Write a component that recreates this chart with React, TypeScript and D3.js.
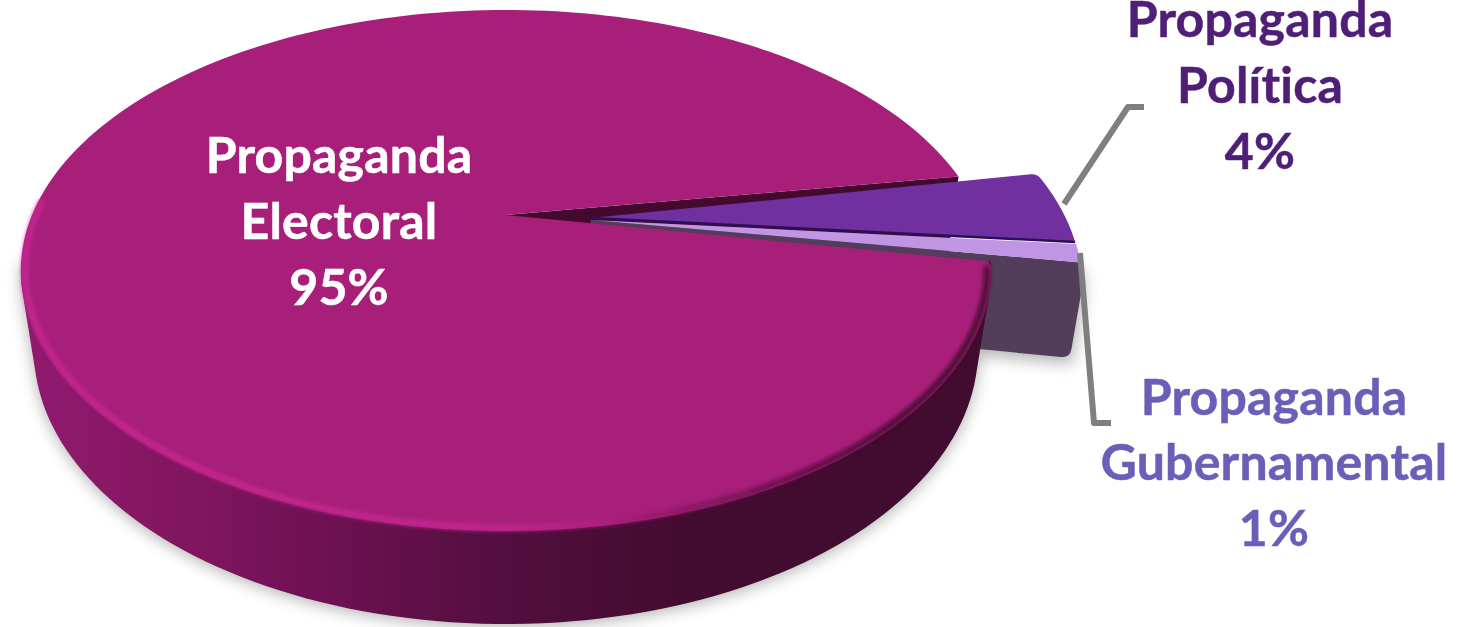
import React from "react";
import * as d3 from "d3";

const categories = ["Propaganda Electoral", "Propaganda Política", "Propaganda Gubernamental"];
const values = [95, 4, 1];
const labelLines = [["Propaganda", "Electoral"], ["Propaganda", "Política"], ["Propaganda", "Gubernamental"]];
const labelText = values.map((v) => `${v}%`);

const W = 1471, H = 627;
const X0 = 506, Y0 = 215, K = 0.213, RX = 474, RY = 248.7;
type Pt = [number, number];
const rad = Math.PI / 180;

// perspective projection of the unit disc onto the screen
const project = (u: number, v: number): Pt => {
  const w = 1 - K * v;
  return [X0 + (RX * u) / w, Y0 + (RY * v) / w];
};
// extrusion: point of the lower face under a point of the top face
const extrudeMain = ([x, y]: Pt): Pt => [505 + (x - 505) * 0.973, 350 + (y - 270.5) * 1.052];
const extrudeSlice = ([x, y]: Pt): Pt => [505 + (x - 505) * 0.973, 365 + (y - 275) * 0.97];

const pieGen = d3.pie<number>().sort(null).startAngle(100 * rad).endAngle(460 * rad);
const arcs = pieGen(values);
const nudges = [[0.4, -1.2], [-2.6, -1.0], [-1.0, -0.6]];
const sliceAngles = arcs.map((a, i) => [a.startAngle / rad - 90 + nudges[i][0], a.endAngle / rad - 90 + nudges[i][1]]);
const offsets: Pt[] = [[0, 0], [0.178, 0.012], [0.178, 0.02]];

const rim = (a0: number, a1: number, off: Pt, r = 1): Pt[] => {
  const n = Math.max(2, Math.ceil(Math.abs(a1 - a0) / 1.5));
  return d3.range(n + 1).map((i) => {
    const t = (a0 + ((a1 - a0) * i) / n) * rad;
    return project(r * Math.cos(t) + off[0], r * Math.sin(t) + off[1]);
  });
};
const toPath = (p: Pt[]) => d3.line()(p)!;
const closed = (p: Pt[]) => toPath(p) + "Z";

// polygon with softened corners at the given indices
const rounded = (p: Pt[], idx: number[], r: number) => {
  let d = "";
  p.forEach((c, i) => {
    if (idx.includes(i)) {
      const a = p[(i - 1 + p.length) % p.length], b = p[(i + 1) % p.length];
      const la = Math.hypot(a[0] - c[0], a[1] - c[1]), lb = Math.hypot(b[0] - c[0], b[1] - c[1]);
      const ra = Math.min(r, la * 0.9), rb = Math.min(r, lb * 0.9);
      const s: Pt = [c[0] + ((a[0] - c[0]) * ra) / la, c[1] + ((a[1] - c[1]) * ra) / la];
      const e: Pt = [c[0] + ((b[0] - c[0]) * rb) / lb, c[1] + ((b[1] - c[1]) * rb) / lb];
      d += `${i ? "L" : "M"}${s[0]},${s[1]}Q${c[0]},${c[1]} ${e[0]},${e[1]}`;
    } else d += `${i ? "L" : "M"}${c[0]},${c[1]}`;
  });
  return d + "Z";
};

const apex = (off: Pt) => project(off[0], off[1]);

export default function App() {
  const [mS, mE] = sliceAngles[0];
  const mainRim = rim(mS, mE, offsets[0]);
  const mainApex = apex(offsets[0]);
  const mainTop = [mainApex, ...mainRim];
  const sideFront = rim(mS, 170, offsets[0]);
  const sideHull = d3.polygonHull([...sideFront, ...sideFront.map(extrudeMain)] as [number, number][])!;

  const [pS, pE] = sliceAngles[1];
  const pRim = rim(pS, pE, offsets[1]);
  const pApex = apex(offsets[1]);
  const [lS, lE] = sliceAngles[2];
  const lRim = rim(lS, lE, offsets[2]);
  const lApex = apex(offsets[2]);

  const upperEnd = mainRim[mainRim.length - 1];
  const wall = [mainApex, upperEnd, extrudeSlice(upperEnd), extrudeSlice(mainApex)];

  const lEnd = lRim[lRim.length - 1];
  const lFoot = extrudeSlice(lEnd);
  const lWall: Pt[] = [
    lApex,
    lEnd,
    [lEnd[0] + 1.5, lEnd[1] + 26],
    [lFoot[0] + 5, lFoot[1] + 5],
    extrudeSlice(lApex),
  ];

  const pTop = [pApex, ...pRim];
  const lTop = [lApex, ...lRim];

  const labelPos = [
    { x: 339, y: 173, fill: "#ffffff" },
    { x: 1260, y: 37, fill: "#4f1f77" },
    { x: 1274, y: 414.5, fill: "#6a5fb8" },
  ];
  const leaders: Pt[][] = [
    [[1064, 204], [1128, 107], [1144, 107]],
    [[1080, 253], [1094, 423], [1111, 423]],
  ];

  return (
    <svg width={W} height={H} viewBox={`0 0 ${W} ${H}`} style={{ position: "absolute", left: 0, top: 0, background: "#fff" }}>
      <defs>
        <linearGradient id="side" gradientUnits="userSpaceOnUse" x1={30} x2={990} y1={0} y2={0}>
          <stop offset="0" stopColor="#8f1a6e" />
          <stop offset="0.12" stopColor="#861763" />
          <stop offset="0.3" stopColor="#6f1153" />
          <stop offset="0.5" stopColor="#520e3e" />
          <stop offset="0.7" stopColor="#420b30" />
          <stop offset="1" stopColor="#420b30" />
        </linearGradient>
        <linearGradient id="bevel" gradientUnits="userSpaceOnUse" x1={20} x2={990} y1={0} y2={0}>
          <stop offset="0" stopColor="#c4268f" />
          <stop offset="0.5" stopColor="#c4268f" />
          <stop offset="0.62" stopColor="#a81f7a" />
          <stop offset="0.72" stopColor="#7a1458" />
          <stop offset="0.9" stopColor="#42092f" />
          <stop offset="1" stopColor="#42092f" />
        </linearGradient>
        <filter id="blurBig" x="-20%" y="-20%" width="140%" height="140%">
          <feGaussianBlur stdDeviation="8" />
        </filter>
        <filter id="blurSmall" x="-5%" y="-5%" width="110%" height="110%">
          <feGaussianBlur stdDeviation="2" />
        </filter>
      </defs>

      <g filter="url(#blurBig)" opacity={0.3} fill="#000">
        <path d={closed(sideHull as Pt[])} transform="translate(0,3)" />
        <path d={closed(lWall)} transform="translate(2,6)" />
      </g>

      <path d={closed(wall)} fill="#44092f" />
      <path d={rounded(lWall, [3], 9)} fill="#523e5b" />
      <path d={closed(sideHull as Pt[])} fill="url(#side)" />
      <path d={closed(lTop)} fill="#c095e4" />
      <path d={rounded(pTop, [1], 6)} fill="#7030a0" />
      <path d={toPath([pApex, pRim[pRim.length - 1]])} stroke="#2c0f55" strokeWidth={2.5} fill="none" />

      <path d={rounded(mainTop, [1], 6)} fill="#a81f7a" />
      <path d={toPath(rim(mS + 1.5, 183, offsets[0], 0.992))} fill="none" stroke="url(#bevel)" strokeWidth={6} strokeLinecap="round" filter="url(#blurSmall)" />

      {leaders.map((l, i) => (
        <path key={i} d={toPath(l)} fill="none" stroke="#7f7f7f" strokeWidth={6} strokeLinejoin="round" />
      ))}

      {categories.map((c, i) => (
        <text key={c} x={labelPos[i].x} y={labelPos[i].y} textAnchor="middle" fill={labelPos[i].fill}
          stroke={labelPos[i].fill} strokeWidth={0.5}
          style={{ fontFamily: "Lato, sans-serif", fontWeight: 700, fontSize: 50, letterSpacing: 0.2 }}>
          {labelLines[i].map((t, j) => (
            <tspan key={j} x={labelPos[i].x} y={labelPos[i].y + j * 65.8}>{t}</tspan>
          ))}
          <tspan x={labelPos[i].x} y={labelPos[i].y + labelLines[i].length * 65.8}>{labelText[i]}</tspan>
        </text>
      ))}
    </svg>
  );
}
